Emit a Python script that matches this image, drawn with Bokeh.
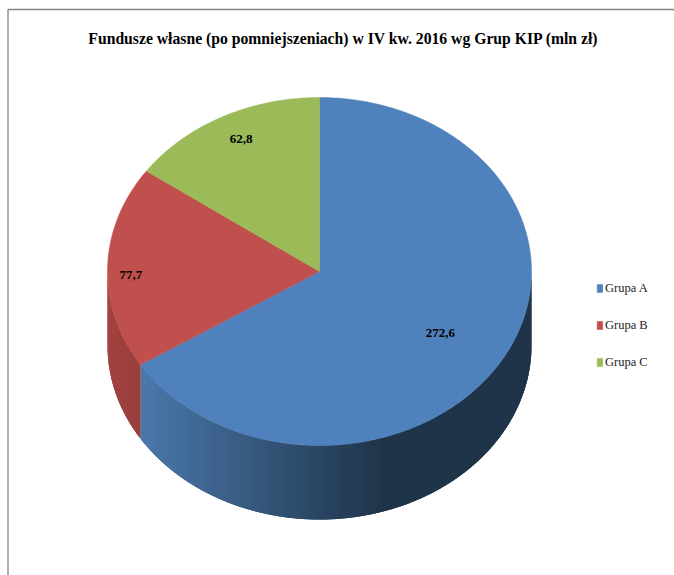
import math
from bokeh.plotting import figure
from bokeh.models import Legend, LegendItem, Range1d
from bokeh.core.properties import value
from bokeh.embed import file_html
from bokeh.resources import INLINE

TITLE = "Fundusze własne (po pomniejszeniach) w IV kw. 2016 wg Grup KIP (mln zł)"
groups = ["Grupa A", "Grupa B", "Grupa C"]
values = [272.6, 77.7, 62.8]
labels = ["272,6", "77,7", "62,8"]
colors = ["#4F81BD", "#C0504D", "#9BBB59"]
label_r = [(0.57, -0.356), (-0.89, -0.02), (-0.37, 0.76)]

W, H = 674, 575
CX, CY, RX, RY, DEPTH = 319, 271, 212, 174, 74

p = figure(width=W, height=H, output_backend="svg", toolbar_location=None,
           x_range=Range1d(-CX / RX, (W - CX) / RX),
           y_range=Range1d(-(H - CY) / RY, CY / RY),
           min_border=0, margin=(0, 0, 0, 0))
p.xaxis.visible = False
p.yaxis.visible = False
p.grid.visible = False
p.outline_line_color = None
p.background_fill_color = "white"
p.border_fill_color = "white"

dz = DEPTH / RY
total = sum(values)
edges = [0.0]
for v in values:
    edges.append(edges[-1] + v / total * 2 * math.pi)


def pt(a):
    return math.sin(a), math.cos(a)


def mix(c1, c2, t):
    a = [int(c1[i:i + 2], 16) for i in (1, 3, 5)]
    b = [int(c2[i:i + 2], 16) for i in (1, 3, 5)]
    return "#%02x%02x%02x" % tuple(round(u + (w - u) * t) for u, w in zip(a, b))


# side wall: overlapping shaded strips along the visible lower rim, painted so
# that each one covers the previous strip's edge
walls = [(edges[0], edges[1], "#4A79AC", "#1F3449", 1.6),
         (edges[1], edges[2], "#A34340", "#983F3D", 1.0)]
for start, end, c_left, c_right, gain in walls:
    lo = max(start, math.pi / 2)
    hi = min(end, 3 * math.pi / 2)
    if hi <= lo:
        continue
    n = int((hi - lo) * 70)
    step = (hi - lo) / n
    x_min, x_max = math.sin(hi), math.sin(lo)
    sx, sy, sc = [], [], []
    for i in range(n):
        a0 = lo + step * i
        a1 = min(a0 + step * 2.5, hi)
        x0, y0 = pt(a0)
        am = (a0 + a1) / 2
        xm, ym = pt(am)
        x1, y1 = pt(a1)
        sx.append([x0, xm, x1, x1, xm, x0])
        sy.append([y0, ym, y1, y1 - dz, ym - dz, y0 - dz])
        sc.append(mix(c_left, c_right, min(1.0, (x0 - x_min) / (x_max - x_min) * gain)))
    p.patches(sx, sy, fill_color=sc, line_color=None)

# top surface
tops = []
for k, col in enumerate(colors):
    a0, a1 = edges[k], edges[k + 1]
    n = max(8, int((a1 - a0) * 60))
    xs, ys = [0.0], [0.0]
    for i in range(n + 1):
        x, y = pt(a0 + (a1 - a0) * i / n)
        xs.append(x)
        ys.append(y)
    tops.append(p.patch(xs, ys, fill_color=col, line_color=col, line_width=0.5))

# data labels
p.text([r[0] for r in label_r], [r[1] for r in label_r], text=labels,
       text_font=value("Liberation Serif"), text_font_style="bold",
       text_font_size="13px", text_color="black",
       text_align="center", text_baseline="middle")

# title
p.text([(343 - CX) / RX], [(CY - 38) / RY], text=[TITLE],
       text_font=value("Liberation Serif"), text_font_style="bold",
       text_font_size="15.7px", text_color="black",
       text_align="center", text_baseline="middle")

# chart frame
p.line([(7.5 - CX) / RX, (7.5 - CX) / RX, (W - CX) / RX],
       [-(H - CY) / RY, (CY - 9) / RY, (CY - 9) / RY],
       line_color="#868686", line_width=1.3)

legend = Legend(items=[LegendItem(label=g, renderers=[r]) for g, r in zip(groups, tops)],
                location=(596, 203), orientation="vertical",
                glyph_width=7, glyph_height=10, label_standoff=2,
                spacing=17, padding=8, margin=0,
                label_text_font="Liberation Serif", label_text_font_size="12.5px",
                label_text_color="#222222", label_height=20,
                background_fill_alpha=0, border_line_color=None)
p.add_layout(legend, "center")

open("out.html", "w").write(file_html(p, INLINE))
